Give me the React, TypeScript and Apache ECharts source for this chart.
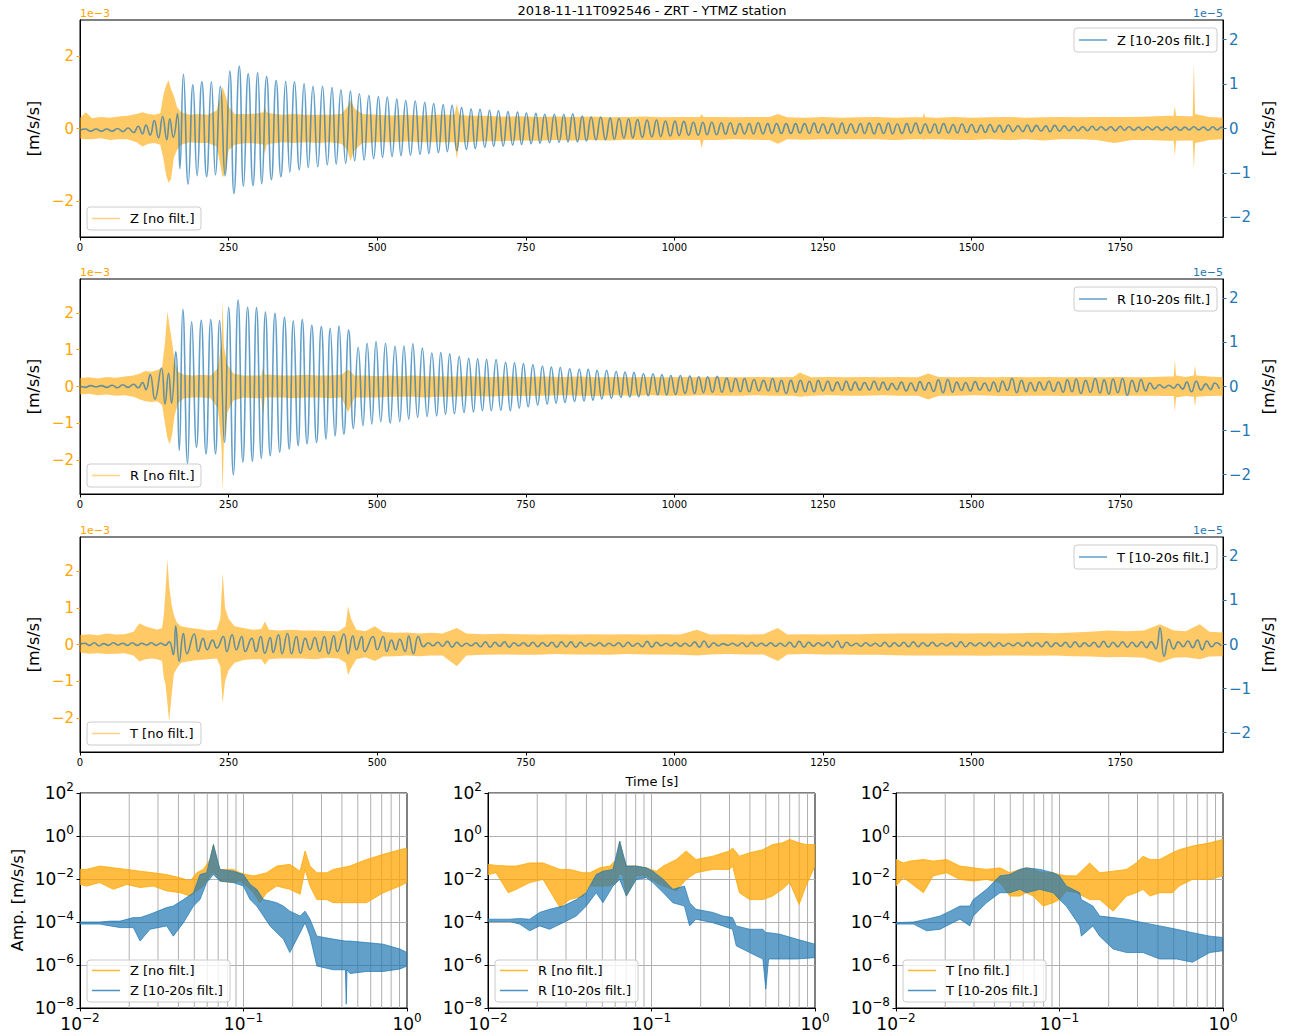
import React, { useEffect, useRef } from "react";
import * as echarts from "echarts";

const FONT = "DejaVu Sans";
const ORANGE = "#FFA500";
const BLUE = "#1f77b4";

const titleText = "2018-11-11T092546 - ZRT - YTMZ station";
const compNames = ["Z", "R", "T"];
const timeTicks = [0, 250, 500, 750, 1000, 1250, 1500, 1750];
const timeMax = 1923;
const rawTicksZ = [-2, 0, 2];
const rawTicksRT = [-2, -1, 0, 1, 2];
const filtTicks = [-2, -1, 0, 1, 2];
const minorFreqs = [0.02, 0.03, 0.04, 0.05, 0.06, 0.07, 0.08, 0.09, 0.1, 0.2, 0.3, 0.4, 0.5, 0.6, 0.7, 0.8, 0.9];

// raw (no filt.) envelope: [time s, upper, lower] in 1e-3 m/s/s
const zRawEnv = [
  [0,0.3,-0.28],[10,0.45,-0.3],[20,0.28,-0.3],[35,0.32,-0.27],[50,0.3,-0.32],[65,0.33,-0.3],[80,0.35,-0.3],[95,0.4,-0.38],[105,0.45,-0.5],[115,0.4,-0.42],
  [125,0.38,-0.4],[135,0.42,-0.45],[140,0.9,-0.8],[145,1.2,-1.3],[149,1.33,-1.5],[153,1.1,-1.4],[158,0.9,-0.8],[163,0.6,-0.6],[170,0.45,-0.45],[185,0.38,-0.38],
  [200,0.4,-0.4],[215,0.38,-0.4],[230,0.5,-0.5],[236,0.9,-1.0],[240,1.15,-1.35],[245,0.9,-1.2],[250,0.6,-0.6],[260,0.4,-0.45],[280,0.4,-0.4],[300,0.42,-0.42],
  [309,0.45,-0.45],[311,0.6,-0.7],[314,0.45,-0.45],[320,0.42,-0.42],[340,0.38,-0.38],[360,0.4,-0.4],[380,0.38,-0.38],[400,0.38,-0.4],[420,0.38,-0.38],[440,0.4,-0.42],
  [450,0.6,-0.6],[455,0.78,-0.9],[462,0.55,-0.6],[475,0.4,-0.4],[500,0.38,-0.38],[525,0.36,-0.38],[550,0.38,-0.36],[575,0.36,-0.38],[600,0.38,-0.38],[630,0.38,-0.38],
  [634,0.68,-0.84],[638,0.38,-0.38],[650,0.36,-0.38],[680,0.35,-0.35],[710,0.33,-0.35],[740,0.34,-0.33],[770,0.32,-0.34],[800,0.33,-0.32],[830,0.32,-0.33],[860,0.33,-0.32],
  [890,0.31,-0.33],[920,0.32,-0.31],[950,0.33,-0.32],[980,0.31,-0.32],[1010,0.32,-0.31],[1043,0.32,-0.32],[1046,0.4,-0.54],[1049,0.32,-0.32],[1070,0.32,-0.32],[1100,0.31,-0.3],
  [1130,0.32,-0.31],[1160,0.32,-0.32],[1174,0.4,-0.42],[1190,0.31,-0.3],[1220,0.3,-0.31],[1250,0.32,-0.3],[1280,0.3,-0.3],[1310,0.31,-0.3],[1340,0.32,-0.3],[1370,0.3,-0.32],
  [1400,0.31,-0.3],[1418,0.31,-0.3],[1420,0.45,-0.32],[1422,0.31,-0.3],[1440,0.3,-0.3],[1470,0.32,-0.31],[1500,0.3,-0.32],[1530,0.31,-0.3],[1560,0.32,-0.32],[1590,0.3,-0.3],
  [1620,0.31,-0.33],[1650,0.32,-0.3],[1680,0.31,-0.3],[1710,0.32,-0.32],[1740,0.32,-0.4],[1770,0.32,-0.32],[1800,0.33,-0.32],[1830,0.35,-0.34],[1840,0.35,-0.34],[1842,0.62,-0.77],
  [1844,0.35,-0.34],[1865,0.34,-0.33],[1872,0.34,-0.33],[1874,1.82,-1.09],[1876,0.4,-0.4],[1900,0.32,-0.32],[1923,0.3,-0.3]
];
const rRawEnv = [
  [0,0.23,-0.22],[15,0.25,-0.2],[30,0.22,-0.24],[45,0.26,-0.22],[60,0.24,-0.25],[75,0.27,-0.24],[90,0.3,-0.28],[101,0.35,-0.35],[110,0.42,-0.4],[120,0.4,-0.42],
  [130,0.45,-0.4],[138,0.5,-0.5],[143,1.2,-1.0],[147,2.04,-1.4],[151,1.6,-1.57],[155,1.2,-1.3],[159,0.7,-0.8],[165,0.4,-0.45],[175,0.32,-0.32],[190,0.3,-0.3],
  [205,0.32,-0.3],[220,0.3,-0.32],[232,0.5,-0.6],[238,1.2,-1.6],[240,2.35,-2.9],[242,1.1,-1.5],[248,0.6,-0.7],[258,0.35,-0.38],[275,0.3,-0.3],[295,0.3,-0.32],
  [305,0.3,-0.32],[308,0.5,-0.8],[311,0.32,-0.3],[320,0.32,-0.3],[340,0.3,-0.3],[360,0.3,-0.32],[380,0.32,-0.3],[400,0.3,-0.3],[420,0.3,-0.32],[440,0.32,-0.3],
  [451,0.46,-0.7],[462,0.3,-0.3],[480,0.3,-0.3],[500,0.28,-0.3],[520,0.3,-0.28],[540,0.28,-0.28],[560,0.3,-0.28],[580,0.28,-0.3],[600,0.28,-0.28],[630,0.27,-0.28],
  [660,0.28,-0.26],[690,0.26,-0.27],[720,0.27,-0.25],[750,0.26,-0.26],[780,0.27,-0.25],[810,0.26,-0.24],[840,0.27,-0.25],[870,0.25,-0.26],[900,0.26,-0.24],[930,0.25,-0.25],
  [960,0.26,-0.24],[990,0.25,-0.25],[1020,0.26,-0.25],[1050,0.25,-0.24],[1080,0.26,-0.25],[1110,0.25,-0.25],[1140,0.26,-0.24],[1170,0.25,-0.25],[1200,0.26,-0.25],[1211,0.38,-0.28],
  [1230,0.25,-0.25],[1260,0.26,-0.24],[1290,0.25,-0.25],[1320,0.26,-0.25],[1350,0.25,-0.24],[1380,0.26,-0.25],[1410,0.25,-0.25],[1427,0.35,-0.35],[1445,0.26,-0.25],[1475,0.25,-0.25],
  [1505,0.26,-0.24],[1535,0.25,-0.25],[1565,0.26,-0.26],[1595,0.25,-0.25],[1625,0.26,-0.25],[1655,0.25,-0.26],[1685,0.26,-0.25],[1715,0.25,-0.26],[1745,0.26,-0.25],[1775,0.25,-0.25],
  [1805,0.26,-0.25],[1830,0.27,-0.26],[1840,0.27,-0.26],[1842,0.71,-0.68],[1844,0.3,-0.3],[1860,0.26,-0.26],[1874,0.3,-0.28],[1876,0.58,-0.55],[1878,0.3,-0.28],[1900,0.27,-0.26],
  [1923,0.25,-0.25]
];
const tRawEnv = [
  [0,0.26,-0.22],[15,0.28,-0.25],[30,0.25,-0.24],[45,0.3,-0.26],[60,0.27,-0.25],[75,0.28,-0.24],[90,0.35,-0.3],[100,0.58,-0.46],[110,0.5,-0.4],[120,0.45,-0.38],
  [130,0.4,-0.4],[138,0.45,-0.45],[141,0.8,-0.9],[144,1.5,-1.1],[147,2.33,-1.6],[150,1.6,-2.1],[154,1.1,-1.4],[158,0.8,-0.8],[163,0.6,-0.65],[170,0.5,-0.5],
  [185,0.45,-0.45],[200,0.42,-0.42],[215,0.38,-0.4],[230,0.4,-0.38],[236,0.7,-0.6],[240,1.95,-1.6],[244,1.0,-1.0],[250,0.7,-0.7],[260,0.5,-0.5],[275,0.45,-0.42],
  [290,0.4,-0.4],[305,0.42,-0.4],[311,0.63,-0.55],[318,0.4,-0.4],[335,0.38,-0.38],[355,0.4,-0.38],[375,0.38,-0.38],[395,0.38,-0.4],[415,0.37,-0.36],[435,0.36,-0.38],
  [447,0.5,-0.5],[451,1.04,-0.83],[456,0.7,-0.65],[465,0.4,-0.4],[480,0.36,-0.35],[496,0.5,-0.45],[510,0.34,-0.33],[530,0.32,-0.32],[550,0.33,-0.3],[570,0.3,-0.32],
  [590,0.32,-0.3],[610,0.3,-0.3],[634,0.45,-0.59],[650,0.3,-0.3],[680,0.28,-0.28],[710,0.29,-0.27],[740,0.28,-0.28],[770,0.27,-0.28],[800,0.28,-0.26],[830,0.27,-0.27],
  [860,0.28,-0.27],[890,0.27,-0.28],[920,0.28,-0.26],[950,0.27,-0.27],[980,0.28,-0.27],[1010,0.27,-0.28],[1038,0.4,-0.3],[1060,0.27,-0.27],[1090,0.28,-0.26],[1120,0.27,-0.27],
  [1150,0.28,-0.27],[1174,0.45,-0.45],[1190,0.27,-0.27],[1220,0.28,-0.26],[1250,0.27,-0.27],[1280,0.28,-0.27],[1310,0.28,-0.28],[1340,0.29,-0.28],[1370,0.3,-0.29],[1400,0.3,-0.3],
  [1430,0.3,-0.3],[1460,0.31,-0.3],[1490,0.3,-0.3],[1520,0.31,-0.31],[1550,0.3,-0.3],[1580,0.31,-0.3],[1610,0.32,-0.31],[1640,0.31,-0.3],[1670,0.33,-0.32],[1700,0.35,-0.33],
  [1730,0.38,-0.35],[1760,0.36,-0.34],[1790,0.38,-0.36],[1817,0.55,-0.5],[1840,0.38,-0.36],[1860,0.36,-0.35],[1884,0.55,-0.4],[1900,0.35,-0.33],[1923,0.33,-0.32]
];

// filtered (10-20s) extrema: [time, value] before the surface-wave train, in 1e-5 m/s/s
const zFiltPre = [
  [0,-0.04],[9,-0.01],[18,-0.06],[27,-0.01],[36,-0.06],[45,-0.01],[54,-0.06],[63,0],[72,-0.07],[81,0.01],[90,-0.09],[98,0.05],
  [105,-0.12],[111,0.08],[118,-0.15],[125,0.18],[132,-0.21],[139,0.27],[146,-0.25],[151,0.22],[157,-0.2],[164,0.33],[168,-0.9]
];
// cycles: [peak time, peak value, trough time, trough value]
const zFiltCycles = [
  [174,1.22,182,-1.25],[190,0.98,197,-1.06],[205,1.05,213,-1.08],[221,1.05,228,-1.04],[236,0.95,244,-1.06],[252,1.29,259,-1.46],[268,1.40,275,-1.30],[283,1.23,291,-1.28],[299,1.25,306,-1.24],[314,1.17,322,-1.15],
  [330,1.08,338,-1.08],[346,1.06,353,-0.98],[361,1.05,369,-0.93],[377,1.01,384,-0.88],[392,0.95,400,-0.86],[408,0.95,416,-0.82],[424,0.92,431,-0.80],[439,0.87,447,-0.78],[455,0.84,462,-0.73],[470,0.78,478,-0.71],
  [486,0.74,494,-0.68],[502,0.72,509,-0.65],[517,0.71,525,-0.63],[533,0.66,540,-0.61],[548,0.63,556,-0.60],[564,0.62,572,-0.58],[580,0.59,587,-0.56],[595,0.56,603,-0.54],[611,0.54,618,-0.52],[626,0.52,634,-0.50],
  [642,0.47,650,-0.47],[658,0.44,665,-0.45],[673,0.43,681,-0.42],[689,0.41,696,-0.40],[704,0.40,712,-0.39],[720,0.38,728,-0.37],[736,0.37,743,-0.36],[751,0.35,759,-0.34],[767,0.34,774,-0.33],[782,0.32,790,-0.32],
  [798,0.32,806,-0.31],[814,0.32,821,-0.30],[829,0.33,837,-0.30],[845,0.28,852,-0.28],[860,0.26,868,-0.26],[876,0.26,884,-0.25],[892,0.24,899,-0.24],[907,0.23,915,-0.22],[923,0.22,930,-0.21],[938,0.20,946,-0.20],
  [954,0.19,962,-0.19],[970,0.19,977,-0.18],[985,0.17,993,-0.17],[1001,0.17,1008,-0.16],[1016,0.16,1024,-0.15],[1032,0.14,1040,-0.15],[1048,0.14,1055,-0.14],[1063,0.14,1071,-0.14],[1079,0.13,1086,-0.13],[1094,0.13,1102,-0.13],
  [1110,0.11,1118,-0.12],[1126,0.11,1133,-0.12],[1141,0.13,1149,-0.12],[1157,0.11,1164,-0.11],[1172,0.11,1180,-0.11],[1188,0.11,1196,-0.11],[1204,0.11,1211,-0.10],[1219,0.11,1227,-0.11],[1235,0.12,1242,-0.10],[1250,0.10,1258,-0.11],
  [1266,0.11,1274,-0.12],[1282,0.12,1289,-0.11],[1297,0.10,1305,-0.10],[1313,0.11,1320,-0.11],[1328,0.12,1336,-0.12],[1344,0.11,1352,-0.11],[1360,0.12,1367,-0.12],[1375,0.10,1383,-0.11],[1391,0.11,1398,-0.10],[1406,0.12,1414,-0.11],
  [1422,0.10,1430,-0.10],[1438,0.10,1445,-0.11],[1453,0.11,1461,-0.10],[1469,0.09,1476,-0.10],[1484,0.10,1492,-0.09],[1500,0.09,1508,-0.09],[1516,0.08,1523,-0.09],[1531,0.09,1539,-0.08],[1547,0.07,1554,-0.08],[1562,0.08,1570,-0.07],
  [1578,0.06,1586,-0.07],[1594,0.08,1601,-0.07],[1609,0.07,1617,-0.06],[1625,0.06,1632,-0.07],[1640,0.07,1648,-0.06],[1656,0.06,1664,-0.05],[1672,0.05,1679,-0.05],[1687,0.04,1695,-0.05],[1703,0.05,1710,-0.04],[1718,0.04,1726,-0.04],
  [1734,0.04,1742,-0.05],[1750,0.05,1757,-0.04],[1765,0.04,1773,-0.04],[1781,0.03,1788,-0.04],[1796,0.04,1804,-0.03],[1812,0.04,1820,-0.04],[1828,0.03,1835,-0.03],[1843,0.04,1851,-0.04],[1859,0.03,1866,-0.03],[1874,0.04,1882,-0.03],
  [1890,0.03,1898,-0.04],[1906,0.04,1913,-0.03],[1921,0.03,1923,0]
];
const rFiltPre = [
  [0,0.01],[9,-0.02],[18,0.02],[27,-0.01],[36,0.02],[45,-0.02],[54,0.03],[63,-0.03],[72,0.04],[81,-0.02],[90,0.05],[98,-0.03],
  [105,0.09],[111,-0.07],[118,0.27],[126,-0.29],[137,0.42],[143,-0.4],[149,0.3],[154,-0.38],[161,0.79],[167,-1.45]
];
const rFiltCycles = [
  [173,1.75,181,-1.75],[188,1.47,196,-1.38],[204,1.50,212,-1.53],[220,1.52,228,-1.53],[235,1.50,243,-1.27],[250,1.80,258,-2.00],[266,1.96,274,-1.72],[282,1.80,290,-1.70],[297,1.79,305,-1.63],[312,1.69,320,-1.57],
  [328,1.66,336,-1.49],[344,1.57,352,-1.42],[359,1.49,367,-1.34],[374,1.52,382,-1.30],[390,1.39,398,-1.27],[406,1.36,414,-1.19],[421,1.32,429,-1.12],[436,1.37,444,-1.08],[452,1.28,460,-0.95],[468,0.89,476,-0.89],
  [483,0.98,491,-0.85],[498,1.02,506,-0.80],[514,0.98,522,-0.83],[530,0.91,538,-0.80],[545,0.92,553,-0.74],[560,0.97,568,-0.70],[576,0.87,584,-0.68],[592,0.76,600,-0.67],[607,0.77,615,-0.63],[622,0.74,630,-0.62],
  [638,0.68,646,-0.59],[654,0.64,662,-0.58],[669,0.63,677,-0.55],[684,0.62,692,-0.55],[700,0.61,708,-0.54],[716,0.55,724,-0.55],[731,0.54,739,-0.49],[746,0.52,754,-0.46],[762,0.49,770,-0.42],[778,0.46,786,-0.40],
  [793,0.44,801,-0.38],[808,0.43,816,-0.36],[824,0.40,832,-0.34],[840,0.39,848,-0.33],[855,0.39,863,-0.31],[870,0.37,878,-0.28],[886,0.37,894,-0.27],[902,0.34,910,-0.25],[917,0.33,925,-0.24],[932,0.32,940,-0.23],
  [948,0.29,956,-0.21],[964,0.29,972,-0.19],[979,0.27,987,-0.19],[994,0.25,1002,-0.18],[1010,0.25,1018,-0.16],[1026,0.24,1034,-0.16],[1041,0.22,1049,-0.14],[1056,0.22,1064,-0.13],[1072,0.23,1080,-0.13],[1088,0.19,1096,-0.12],
  [1103,0.18,1111,-0.12],[1118,0.18,1126,-0.12],[1134,0.16,1142,-0.10],[1150,0.14,1158,-0.10],[1165,0.18,1173,-0.12],[1180,0.14,1188,-0.16],[1196,0.14,1204,-0.13],[1212,0.14,1220,-0.12],[1227,0.12,1235,-0.12],[1242,0.14,1250,-0.10],
  [1258,0.12,1266,-0.10],[1274,0.10,1282,-0.09],[1289,0.12,1297,-0.09],[1304,0.10,1312,-0.08],[1320,0.09,1328,-0.08],[1336,0.12,1344,-0.08],[1351,0.10,1359,-0.08],[1366,0.07,1374,-0.07],[1382,0.10,1390,-0.10],[1398,0.08,1406,-0.10],
  [1413,0.11,1421,-0.08],[1428,0.09,1436,-0.11],[1444,0.15,1452,-0.14],[1460,0.16,1468,-0.13],[1475,0.10,1483,-0.09],[1490,0.09,1498,-0.10],[1506,0.11,1514,-0.08],[1522,0.08,1530,-0.10],[1537,0.10,1545,-0.12],[1552,0.12,1560,-0.09],
  [1568,0.18,1576,-0.14],[1584,0.14,1592,-0.12],[1599,0.09,1607,-0.10],[1614,0.10,1622,-0.08],[1630,0.12,1638,-0.11],[1646,0.10,1654,-0.13],[1661,0.15,1669,-0.12],[1676,0.17,1684,-0.16],[1692,0.14,1700,-0.13],[1708,0.18,1716,-0.15],
  [1723,0.15,1731,-0.17],[1738,0.17,1746,-0.14],[1754,0.18,1762,-0.20],[1770,0.14,1778,-0.12],[1785,0.16,1793,-0.10],[1800,0.08,1808,-0.05],[1816,0.04,1824,-0.03],[1832,0.03,1840,-0.04],[1847,0.05,1855,-0.06],[1862,0.10,1870,-0.12],
  [1878,0.12,1886,-0.08],[1894,0.06,1902,-0.07],[1909,0.08,1917,-0.05]
];
const tFiltPts = [
  [0,0],[8,0.03],[16,-0.02],[24,0.04],[32,-0.03],[40,0.02],[48,-0.02],[56,0.04],[64,-0.01],[72,0.03],[80,-0.02],[88,0.04],[96,-0.02],[104,0.03],[112,-0.01],[120,0.04],[128,-0.02],[136,0.03],[143,-0.02],
  [150,0.06],[157,-0.23],[161,0.42],[167,-0.38],[174,0.25],[180,-0.21],[192,0.24],[199,-0.16],[207,0.14],[214,-0.12],[223,0.1],[230,-0.08],[241,0.18],[247,-0.16],[256,0.22],[263,-0.12],[272,0.18],[278,-0.16],
  [289,0.14],[296,-0.16],[304,0.18],[311,-0.2],[320,0.16],[325,-0.18],[334,0.22],[340,-0.21],[349,0.25],[356,-0.21],[364,0.18],[371,-0.2],[379,0.14],[387,-0.12],[395,0.16],[403,-0.16],[411,0.18],[418,-0.21],
  [427,0.2],[433,-0.16],[444,0.24],[451,-0.21],[459,0.2],[465,-0.12],[474,0.18],[479,-0.16],[493,0.18],[500,-0.12],[510,0.18],[516,-0.16],[524,0.1],[531,-0.12],[538,0.12],[547,-0.16],[553,0.19],[561,-0.21],
  [569,0.18],[578,-0.05],[586,0.04],[594,-0.03],[602,0.05],[610,-0.04],[618,0.07],[626,-0.06],[634,0.05],[642,-0.04],[650,0.03],[658,-0.03],[666,0.04],[674,-0.05],[682,0.06],[690,-0.06],[698,0.05],[706,-0.04],
  [714,0.06],[722,-0.06],[730,0.04],[738,-0.03],[746,0.04],[754,-0.04],[762,0.05],[770,-0.05],[778,0.04],[786,-0.04],[794,0.05],[802,-0.06],[810,0.06],[818,-0.05],[826,0.06],[834,-0.06],[842,0.05],[850,-0.04],
  [858,0.03],[866,-0.03],[874,0.04],[882,-0.04],[890,0.03],[898,-0.03],[906,0.04],[914,-0.05],[922,0.05],[930,-0.04],[938,0.03],[946,-0.05],[954,0.07],[962,-0.06],[970,0.05],[978,-0.03],[986,0.03],[994,-0.03],
  [1002,0.04],[1010,-0.04],[1018,0.03],[1026,-0.04],[1034,0.06],[1042,-0.06],[1050,0.08],[1058,-0.06],[1066,0.04],[1074,-0.03],[1082,0.02],[1090,-0.02],[1098,0.03],[1106,-0.03],[1114,0.04],[1122,-0.05],[1130,0.05],[1138,-0.04],
  [1146,0.03],[1154,-0.03],[1162,0.04],[1170,-0.04],[1178,0.03],[1186,-0.04],[1194,0.05],[1202,-0.06],[1210,0.07],[1218,-0.06],[1226,0.05],[1234,-0.04],[1242,0.04],[1250,-0.03],[1258,0.05],[1266,-0.06],[1274,0.08],[1282,-0.07],
  [1290,0.05],[1298,-0.03],[1306,0.03],[1314,-0.04],[1322,0.04],[1330,-0.03],[1338,0.03],[1346,-0.04],[1354,0.05],[1362,-0.05],[1370,0.04],[1378,-0.04],[1386,0.05],[1394,-0.05],[1402,0.06],[1410,-0.05],[1418,0.04],[1426,-0.04],
  [1434,0.05],[1442,-0.04],[1450,0.03],[1458,-0.03],[1466,0.04],[1474,-0.05],[1482,0.06],[1490,-0.05],[1498,0.04],[1506,-0.03],[1514,0.04],[1522,-0.04],[1530,0.05],[1538,-0.05],[1546,0.04],[1554,-0.04],[1562,0.03],[1570,-0.03],
  [1578,0.04],[1586,-0.04],[1594,0.05],[1602,-0.04],[1610,0.04],[1618,-0.05],[1626,0.06],[1634,-0.05],[1642,0.04],[1650,-0.04],[1658,0.05],[1666,-0.06],[1674,0.06],[1682,-0.05],[1690,0.04],[1698,-0.04],[1706,0.05],[1714,-0.06],
  [1722,0.07],[1730,-0.06],[1738,0.05],[1746,-0.05],[1754,0.06],[1762,-0.06],[1770,0.05],[1778,-0.05],[1786,0.06],[1794,-0.07],[1802,0.06],[1810,-0.1],[1817,0.38],[1824,-0.27],[1832,0.12],[1840,-0.1],[1848,0.06],[1856,-0.05],
  [1864,0.08],[1872,-0.07],[1880,0.1],[1888,-0.12],[1896,0.08],[1904,-0.05],[1912,0.04],[1920,-0.03]
];

// spectra envelopes: [frequency Hz, upper amp, lower amp]
const zSpecRaw = [
  [0.01,2.8e-2,5.6e-3],[0.011,2.8e-2,4.7e-3],[0.0132,4.0e-2,6.8e-3],[0.016,3.3e-2,3.3e-3],[0.0193,2.8e-2,5.6e-3],[0.0233,2.3e-2,4.0e-3],[0.0281,1.95e-2,4.7e-3],
  [0.0339,1.6e-2,2.8e-3],[0.0409,1.15e-2,2.3e-3],[0.0471,8e-3,1.6e-3],[0.0518,1.95e-2,2.8e-3],[0.0568,2.8e-2,4.7e-3],[0.0624,8.1e-2,1.4e-2],[0.0655,0.4,1.95e-2],
  [0.0686,8.1e-2,1.4e-2],[0.0718,2.8e-2,8e-3],[0.0867,2.8e-2,6.8e-3],[0.0953,1.95e-2,8e-3],[0.1045,1.6e-2,4.7e-3],[0.1148,1.4e-2,2.3e-3],[0.126,1.6e-2,7.9e-4],
  [0.1387,1.95e-2,2.3e-3],[0.1596,4.0e-2,4.7e-3],[0.192,4.8e-2,3.3e-3],[0.222,2.3e-2,1.95e-3],[0.238,0.2,2.8e-2],[0.255,4.0e-2,4.7e-3],[0.281,1.95e-2,1.1e-3],
  [0.323,1.95e-2,1.1e-3],[0.354,2.8e-2,7.9e-4],[0.448,4.0e-2,7.9e-4],[0.566,8.1e-2,7.9e-4],[0.716,0.14,2.3e-3],[0.906,0.23,4.7e-3],[1.0,0.28,6.8e-3]
];
const zSpecFilt = [
  [0.01,1.0e-4,8e-5],[0.0132,1.0e-4,8e-5],[0.0153,1.1e-4,6.6e-5],[0.0176,1.1e-4,5.5e-5],[0.0212,1.6e-4,5.5e-5],[0.0233,1.6e-4,1.3e-5],[0.0268,2.3e-4,4.6e-5],
  [0.0339,4.7e-4,6.6e-5],[0.0372,5.5e-4,2.2e-5],[0.0429,1.1e-3,9.3e-5],[0.0494,2.3e-3,5.5e-4],[0.0542,1.6e-2,1.1e-3],[0.0595,1.95e-2,6.8e-3],[0.0655,0.4,1.6e-2],
  [0.0718,2.8e-2,8e-3],[0.0867,2.3e-2,6.8e-3],[0.0999,1.6e-2,4.7e-3],[0.1097,5.6e-3,1.1e-3],[0.1205,3.3e-3,5.5e-4],[0.1324,1.1e-3,1.9e-4],[0.1453,9.5e-4,6.6e-5],
  [0.1596,7.9e-4,3.2e-5],[0.1752,5.5e-4,1.6e-5],[0.192,3.2e-4,3.8e-6],[0.222,1.9e-4,3.2e-5],[0.238,3.2e-4,9.3e-5],[0.255,1.35e-4,2.2e-5],[0.281,2.2e-5,9e-7],
  [0.354,1.6e-5,6e-7],[0.42,1.3e-5,6e-7],[0.425,1.3e-5,1.5e-8],[0.43,1.3e-5,6e-7],[0.448,1.3e-5,4e-7],[0.566,1.1e-5,5e-7],[0.716,9.3e-6,5e-7],[0.906,5.5e-6,6.5e-7],[1.0,3.8e-6,9e-7]
];
const rSpecRaw = [
  [0.01,4.8e-2,1.6e-2],[0.0112,4.3e-2,1.95e-2],[0.0133,4.0e-2,2.3e-3],[0.0149,4.0e-2,3.3e-3],[0.018,5.6e-2,6.8e-3],[0.0217,5.6e-2,9.6e-3],[0.0275,2.8e-2,4.7e-4],
  [0.0316,2.8e-2,1.1e-3],[0.0381,1.95e-2,1.6e-3],[0.0419,1.95e-2,4.7e-3],[0.0482,3.3e-2,4.7e-3],[0.0555,4.0e-2,4.7e-3],[0.061,8.1e-2,6.8e-3],[0.0639,0.58,1.95e-2],
  [0.067,0.115,1.4e-2],[0.0702,4.0e-2,1.6e-3],[0.0808,4.0e-2,1.4e-2],[0.093,3.3e-2,1.4e-2],[0.107,2.3e-2,6.8e-3],[0.118,4.0e-2,4.7e-3],[0.142,8.1e-2,2.8e-3],
  [0.163,0.2,9.6e-3],[0.187,8.1e-2,1.95e-2],[0.237,0.115,2.8e-2],[0.30,0.2,2.8e-2],[0.313,0.28,4.0e-2],[0.345,0.115,2.3e-3],[0.398,0.166,1.1e-3],
  [0.48,0.23,1.1e-3],[0.55,0.4,1.6e-3],[0.63,0.48,3.3e-3],[0.70,0.69,6.8e-3],[0.80,0.48,6.6e-4],[0.88,0.4,4.7e-3],[1.0,0.4,4.0e-2]
];
const rSpecFilt = [
  [0.01,1.35e-4,1.05e-4],[0.0136,1.35e-4,1.05e-4],[0.0156,1.45e-4,8e-5],[0.018,1.35e-4,3.9e-5],[0.0207,2.8e-4,6.6e-5],[0.0238,3.9e-4,4.6e-5],[0.0288,5.5e-4,9.3e-5],
  [0.0347,1.1e-3,1.9e-4],[0.0399,2.3e-3,5.5e-4],[0.0459,1.6e-2,2.3e-3],[0.0505,2.3e-2,7.9e-4],[0.0581,2.8e-2,4.7e-3],[0.0639,0.58,9.6e-3],[0.0702,4.0e-2,1.6e-3],
  [0.0808,4.0e-2,9.6e-3],[0.093,3.3e-2,1.15e-2],[0.102,2.3e-2,6.8e-3],[0.118,9.6e-3,2.3e-3],[0.135,3.3e-3,7.9e-4],[0.159,4.7e-3,5.5e-4],[0.171,7.9e-4,6.6e-5],
  [0.187,3.9e-4,1.35e-4],[0.237,2.8e-4,9.3e-5],[0.273,1.9e-4,6.6e-5],[0.313,1.6e-4,4.6e-5],[0.33,6.6e-5,7.8e-6],[0.398,4.6e-5,3.8e-6],[0.48,4.6e-5,1.9e-6],
  [0.50,3.2e-5,7.6e-8],[0.52,3.2e-5,1.9e-6],[0.61,2.7e-5,1.9e-6],[0.77,1.6e-5,1.9e-6],[1.0,9.3e-6,2.2e-6]
];
const tSpecRaw = [
  [0.01,8.1e-2,4.7e-3],[0.0111,5.6e-2,1.15e-2],[0.0122,6.8e-2,6.8e-3],[0.0147,8.1e-2,2.3e-3],[0.0169,6.8e-2,1.4e-2],[0.0204,8.1e-2,1.95e-2],[0.0246,4.0e-2,9.6e-3],
  [0.0297,3.3e-2,8e-3],[0.0358,2.8e-2,9.6e-3],[0.0432,3.3e-2,6.8e-3],[0.0497,1.95e-2,1.6e-3],[0.0573,2.8e-2,1.6e-3],[0.0627,3.3e-2,2.3e-3],[0.069,2.8e-2,1.6e-3],
  [0.0795,1.95e-2,5.5e-4],[0.0915,1.95e-2,7.9e-4],[0.10,1.6e-2,1.1e-3],[0.11,1.4e-2,2.8e-3],[0.127,1.4e-2,2.3e-3],[0.153,5.6e-2,1.1e-3],[0.176,1.95e-2,1.1e-3],
  [0.213,2.3e-2,3.2e-4],[0.257,2.8e-2,1.6e-3],[0.295,5.6e-2,2.3e-3],[0.324,0.115,3.3e-3],[0.357,8.1e-2,1.6e-3],[0.41,8.1e-2,2.3e-3],[0.49,0.166,2.3e-3],
  [0.54,0.23,4.7e-3],[0.65,0.34,9.6e-3],[0.83,0.48,9.6e-3],[1.0,0.69,1.4e-2]
];
const tSpecFilt = [
  [0.01,9.3e-5,8e-5],[0.0128,1.0e-4,8e-5],[0.0154,1.35e-4,3.9e-5],[0.0186,1.9e-4,4.6e-5],[0.0214,3.2e-4,8e-5],[0.0246,5.5e-4,1.35e-4],[0.0283,5.5e-4,6.6e-5],
  [0.0297,1.1e-3,1.9e-4],[0.0358,3.3e-3,7.9e-4],[0.0432,1.4e-2,2.3e-3],[0.0497,1.6e-2,2.3e-3],[0.0573,2.8e-2,3.3e-3],[0.0627,3.3e-2,2.3e-3],[0.0759,2.8e-2,3.3e-3],
  [0.0915,1.95e-2,2.3e-3],[0.10,1.4e-2,1.1e-3],[0.11,4.7e-3,5.5e-4],[0.133,2.3e-3,6.6e-5],[0.136,1.1e-3,2.2e-5],[0.16,5.5e-4,6.6e-5],[0.176,1.9e-4,2.2e-5],
  [0.213,1.6e-4,5.5e-6],[0.257,1.35e-4,3.8e-6],[0.324,9.3e-5,3.8e-6],[0.41,6.6e-5,1.9e-6],[0.52,4.6e-5,1.9e-6],[0.65,3.2e-5,1.35e-6],[0.83,2.2e-5,3.8e-6],[1.0,1.9e-5,4.6e-6]
];

const minusFmt = (v: number) => String(v).replace("-", "\u2212");
const plainFmt = (v: number) => String(v);
const expFmt = (v: number) => {
  const e = Math.round(Math.log10(v));
  return "{b|10}{s|" + (e < 0 ? "\u2212" : "") + Math.abs(e) + "}";
};
const expRich = {
  b: { fontSize: 17, fontFamily: FONT, color: "#000", lineHeight: 24 },
  s: { fontSize: 12, fontFamily: FONT, color: "#000", lineHeight: 12, verticalAlign: "top" },
};

function bandSeries(env: number[][], xi: number, yi: number, fill: string, stroke: string | null) {
  return {
    type: "custom",
    xAxisIndex: xi,
    yAxisIndex: yi,
    silent: true,
    clip: true,
    data: [[env[0][0], env[0][1]]],
    renderItem: (_p: any, api: any) => {
      const up = env.map((r) => api.coord([r[0], r[1]]));
      const lo = env.slice().reverse().map((r) => api.coord([r[0], r[2]]));
      return {
        type: "polygon",
        shape: { points: up.concat(lo) },
        style: stroke ? { fill, stroke, lineWidth: 1 } : { fill },
      };
    },
  };
}

function cyclesToPts(pre: number[][], cycles: number[][]) {
  const pts = pre.slice();
  cycles.forEach((c) => {
    pts.push([c[0], c[1]]);
    pts.push([c[2], c[3]]);
  });
  return pts;
}

function legendBox(x: number, y: number, w: number, h: number, entries: { y: number; color: string; label: string }[]) {
  const children: any[] = [
    { type: "rect", z: 100, shape: { x, y, width: w, height: h, r: 3 }, style: { fill: "rgba(255,255,255,0.8)", stroke: "#cccccc", lineWidth: 1 } },
  ];
  entries.forEach((e) => {
    children.push({ type: "line", z: 101, shape: { x1: x + 5, y1: e.y, x2: x + 33, y2: e.y }, style: { stroke: e.color, lineWidth: 1.5 } });
    children.push({
      type: "text",
      z: 101,
      x: x + 43,
      y: e.y,
      style: { text: e.label, fill: "#000", fontSize: 13, fontFamily: FONT, align: "left", verticalAlign: "middle", textAlign: "left", textVerticalAlign: "middle" },
    });
  });
  return { type: "group", z: 100, children };
}

function txt(text: string, x: number, y: number, size: number, color: string, align = "center", rotation = 0) {
  return {
    type: "text",
    z: 100,
    x,
    y,
    rotation,
    style: { text, fill: color, fontSize: size, fontFamily: FONT, align, verticalAlign: "middle", textAlign: align, textVerticalAlign: "middle" },
  };
}

function buildOption() {
  const grids: any[] = [];
  const xAxes: any[] = [];
  const yAxes: any[] = [];
  const series: any[] = [];
  const graphics: any[] = [];

  const ts = [
    { top: 20, h: 217, rawR: 3.0, rawTicks: rawTicksZ, env: zRawEnv, filt: cyclesToPts(zFiltPre, zFiltCycles) },
    { top: 279, h: 215, rawR: 2.92, rawTicks: rawTicksRT, env: rRawEnv, filt: cyclesToPts(rFiltPre, rFiltCycles) },
    { top: 537, h: 215, rawR: 2.93, rawTicks: rawTicksRT, env: tRawEnv, filt: tFiltPts },
  ];
  ts.forEach((p, i) => {
    grids.push({ left: 80, top: p.top, width: 1143, height: p.h, show: true, borderColor: "#000", borderWidth: 1, backgroundColor: "transparent", containLabel: false, outerBoundsMode: "none" });
    xAxes.push({
      type: "value", gridIndex: i, min: 0, max: timeMax,
      axisLine: { show: true, onZero: false, lineStyle: { color: "#000", width: 1 } },
      axisTick: { show: true, customValues: timeTicks, length: 3.5, lineStyle: { color: "#000" } },
      axisLabel: { show: true, customValues: timeTicks, fontSize: 10, color: "#000", fontFamily: FONT, margin: 5, formatter: plainFmt },
      splitLine: { show: false },
    });
    yAxes.push({
      type: "value", gridIndex: i, position: "left", min: -p.rawR, max: p.rawR,
      axisLine: { show: true, onZero: false, lineStyle: { color: "#000" } },
      axisTick: { show: true, customValues: p.rawTicks, length: 3.5, lineStyle: { color: ORANGE } },
      axisLabel: { show: true, customValues: p.rawTicks, fontSize: 15, color: ORANGE, fontFamily: FONT, margin: 6, formatter: minusFmt },
      splitLine: { show: false },
    });
    yAxes.push({
      type: "value", gridIndex: i, position: "right", min: -2.44, max: 2.44,
      axisLine: { show: true, onZero: false, lineStyle: { color: "#000" } },
      axisTick: { show: true, customValues: filtTicks, length: 3.5, lineStyle: { color: BLUE } },
      axisLabel: { show: true, customValues: filtTicks, fontSize: 15, color: BLUE, fontFamily: FONT, margin: 6, formatter: minusFmt },
      splitLine: { show: false },
    });
    series.push(bandSeries(p.env, i, 2 * i, "rgba(255,165,0,0.6)", null));
    series.push({
      type: "line", xAxisIndex: i, yAxisIndex: 2 * i + 1, data: p.filt, smooth: 0.5, showSymbol: false, symbol: "none",
      silent: true, clip: true, lineStyle: { color: BLUE, width: 1.6, opacity: 0.7 },
    });
    const c = compNames[i];
    graphics.push(legendBox(87, p.top + p.h - 30, 114, 23, [{ y: p.top + p.h - 18.5, color: "rgba(255,165,0,0.5)", label: c + " [no filt.]" }]));
    graphics.push(legendBox(1074, p.top + 8, 143, 24, [{ y: p.top + 20, color: "rgba(31,119,180,0.7)", label: c + " [10-20s filt.]" }]));
    graphics.push(txt("1e\u22123", 80, p.top - 6.5, 11, ORANGE, "left"));
    graphics.push(txt("1e\u22125", 1223, p.top - 6.5, 11, BLUE, "right"));
    graphics.push(txt("[m/s/s]", 33, p.top + p.h / 2, 16, "#000", "center", Math.PI / 2));
    graphics.push(txt("[m/s/s]", 1268, p.top + p.h / 2, 16, "#000", "center", Math.PI / 2));
  });

  const sp = [
    { left: 80, raw: zSpecRaw, filt: zSpecFilt },
    { left: 488, raw: rSpecRaw, filt: rSpecFilt },
    { left: 896, raw: tSpecRaw, filt: tSpecFilt },
  ];
  sp.forEach((p, j) => {
    const gi = 3 + j;
    grids.push({ left: p.left, top: 793, width: 327, height: 215, show: true, borderColor: "#000", borderWidth: 1, backgroundColor: "transparent", containLabel: false, outerBoundsMode: "none" });
    xAxes.push({
      type: "log", logBase: 10, gridIndex: gi, min: 0.01, max: 1,
      axisLine: { show: true, onZero: false, lineStyle: { color: "#000" } },
      axisTick: { show: true, length: 3.5, lineStyle: { color: "#000" } },
      axisLabel: { show: true, formatter: expFmt, rich: expRich, margin: 4, hideOverlap: false },
      splitLine: { show: false }, minorTick: { show: false }, minorSplitLine: { show: false },
    });
    yAxes.push({
      type: "log", logBase: 100, gridIndex: gi, min: 1e-8, max: 100,
      axisLine: { show: true, onZero: false, lineStyle: { color: "#000" } },
      axisTick: { show: true, length: 3.5, lineStyle: { color: "#000" } },
      axisLabel: { show: true, formatter: expFmt, rich: expRich, margin: 6, hideOverlap: false },
      splitLine: { show: true, lineStyle: { color: "#b0b0b0", width: 1 } },
    });
    const yi = 6 + j;
    series.push({
      type: "custom", xAxisIndex: gi, yAxisIndex: yi, silent: true, z: 1,
      data: minorFreqs.map((f) => [f, 1]),
      renderItem: (_p: any, api: any) => {
        const a = api.coord([api.value(0), 1e-8]);
        const b = api.coord([api.value(0), 100]);
        return { type: "line", shape: { x1: a[0], y1: a[1], x2: b[0], y2: b[1] }, style: { stroke: "#b0b0b0", lineWidth: 1 } };
      },
    });
    series.push(bandSeries(p.raw, gi, yi, "rgba(255,165,0,0.75)", "rgba(255,165,0,0.75)"));
    series.push(bandSeries(p.filt, gi, yi, "rgba(31,119,180,0.7)", "rgba(31,119,180,0.7)"));
    const c = compNames[j];
    const lx = p.left + 7;
    graphics.push(legendBox(lx, 960, 143, 42, [
      { y: 970.5, color: "rgba(255,165,0,0.8)", label: c + " [no filt.]" },
      { y: 990.5, color: "rgba(31,119,180,0.8)", label: c + " [10-20s filt.]" },
    ]));
  });

  graphics.push(txt(titleText, 652, 10, 13, "#000"));
  graphics.push(txt("Time [s]", 652, 781, 13, "#000"));
  graphics.push(txt("Amp. [m/s/s]", 17, 900, 16, "#000", "center", Math.PI / 2));

  return {
    animation: false,
    backgroundColor: "#ffffff",
    textStyle: { fontFamily: FONT },
    grid: grids,
    xAxis: xAxes,
    yAxis: yAxes,
    series,
    graphic: { elements: graphics },
  };
}

export default function App() {
  const ref = useRef<HTMLDivElement>(null);
  useEffect(() => {
    if (!ref.current) return;
    const chart = echarts.init(ref.current, undefined, { renderer: "svg", width: 1290, height: 1036 });
    chart.setOption(buildOption() as any);
    return () => chart.dispose();
  }, []);
  return <div ref={ref} style={{ position: "absolute", left: 0, top: 0, width: 1290, height: 1036 }} />;
}
